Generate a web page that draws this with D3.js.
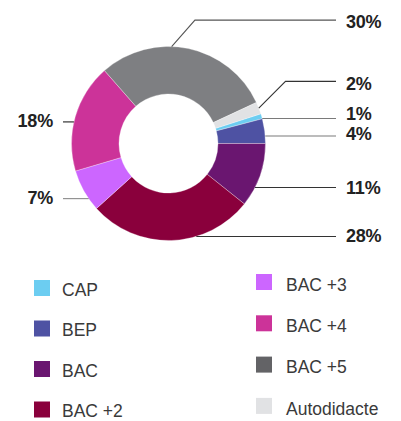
<!DOCTYPE html>
<html><head><meta charset="utf-8">
<script src="https://cdn.jsdelivr.net/npm/d3@7"></script>
<style>html,body{margin:0;padding:0;background:#fff;}svg{display:block;}</style>
</head><body>
<script>
const categories = ["CAP","BEP","BAC","BAC +2","BAC +3","BAC +4","BAC +5","Autodidacte"];
const values = [0.85, 4.1, 10.7, 27.6, 7.1, 18.1, 29.5, 2.0];
const percentLabels = ["1%","4%","11%","28%","7%","18%","30%","2%"];

const colors = ["#6ccdf1","#4e52a3","#6a1670","#8a003c","#cc66ff","#cc3399","#7e7f82","#e1e2e4"];
const legendColors = ["#6ccdf1","#4e52a3","#6a1670","#8a003c","#cc66ff","#cc3399","#636366","#e1e2e4"];

// leader layout (per category): fraction of slice for anchor, elbow offset, side, line colour, text y offset
const leader = [
  {f:0.95, elbow:null, side:"r", color:"#7a7a7a", ty:-5.5},
  {f:0.7,  elbow:null, side:"r", color:"#7a7a7a", ty:-2},
  {f:0.7,  elbow:null, side:"r", color:"#333", ty:0},
  {f:0.35, elbow:null, side:"r", color:"#333", ty:-0.5},
  {f:0.29, elbow:null, side:"l", color:"#8a8a8a", ty:-1.5},
  {f:0.45, elbow:null, side:"l", color:"#222", ty:-1},
  {f:0.406, elbow:[23.3,-26.4], side:"r", color:"#555", ty:1},
  {f:0.5,  elbow:[26.7,-26.7], side:"r", color:"#333", ty:2}
];

const W = 401, H = 421;
const cx = 168.5, cy = 143.5, rOut = 97, rIn = 49.5;
const svg = d3.select("body").append("svg").attr("width", W).attr("height", H);

const total = d3.sum(values);
const start = Math.PI/2 - 2*Math.PI*(values[0]+values[1])/total;
const pie = d3.pie().sort(null).value(d => d).startAngle(start).endAngle(start + 2*Math.PI);
const arcs = pie(values);
const arc = d3.arc().innerRadius(rIn).outerRadius(rOut);

const g = svg.append("g").attr("transform", `translate(${cx},${cy})`);
g.selectAll("path").data(arcs).enter().append("path")
  .attr("d", arc)
  .attr("fill", (d,i) => colors[i])
  .attr("stroke", "#fff").attr("stroke-width", 0.3);

const xRightEnd = 336, xLeftEnd = 63, xRightText = 346, xLeftText = 53;
arcs.forEach((d,i) => {
  const L = leader[i];
  const a = d.startAngle + L.f*(d.endAngle - d.startAngle);
  const px = cx + rOut*Math.sin(a), py = cy - rOut*Math.cos(a);
  let pts = [[px,py]];
  let ly = py;
  if (L.elbow) { pts.push([px+L.elbow[0], py+L.elbow[1]]); ly = py+L.elbow[1]; }
  pts.push([L.side === "r" ? xRightEnd : xLeftEnd, ly]);
  svg.append("path").attr("d", d3.line()(pts))
    .attr("fill","none").attr("stroke", L.color).attr("stroke-width", 1.1);
  svg.append("text")
    .attr("x", L.side === "r" ? xRightText : xLeftText)
    .attr("y", ly + L.ty)
    .attr("dy", "0.36em")
    .attr("text-anchor", L.side === "r" ? "start" : "end")
    .attr("font-family", "'Liberation Sans', Arial, sans-serif")
    .attr("font-weight", "bold")
    .attr("font-size", 18)
    .attr("letter-spacing", -0.2)
    .attr("fill", "#222")
    .text(percentLabels[i]);
});

// legend
const legend = svg.append("g");
categories.forEach((c,i) => {
  const col = i < 4 ? 0 : 1, row = i % 4;
  const sx = col === 0 ? 34 : 256;
  const sy = col === 0 ? 280 + row*40.5 : 274 + row*41.3;
  const tx = col === 0 ? 62 : 286;
  const tb = col === 0 ? sy + 15.5 : sy + 16.8;
  legend.append("rect").attr("x", sx).attr("y", sy).attr("width", 16).attr("height", 16)
    .attr("fill", legendColors[i]);
  legend.append("text").attr("x", tx).attr("y", tb)
    .attr("font-family", "'Liberation Sans', Arial, sans-serif")
    .attr("font-size", 17.5)
    .attr("fill", "#3a3a3a")
    .text(c);
});
</script>
</body></html>
